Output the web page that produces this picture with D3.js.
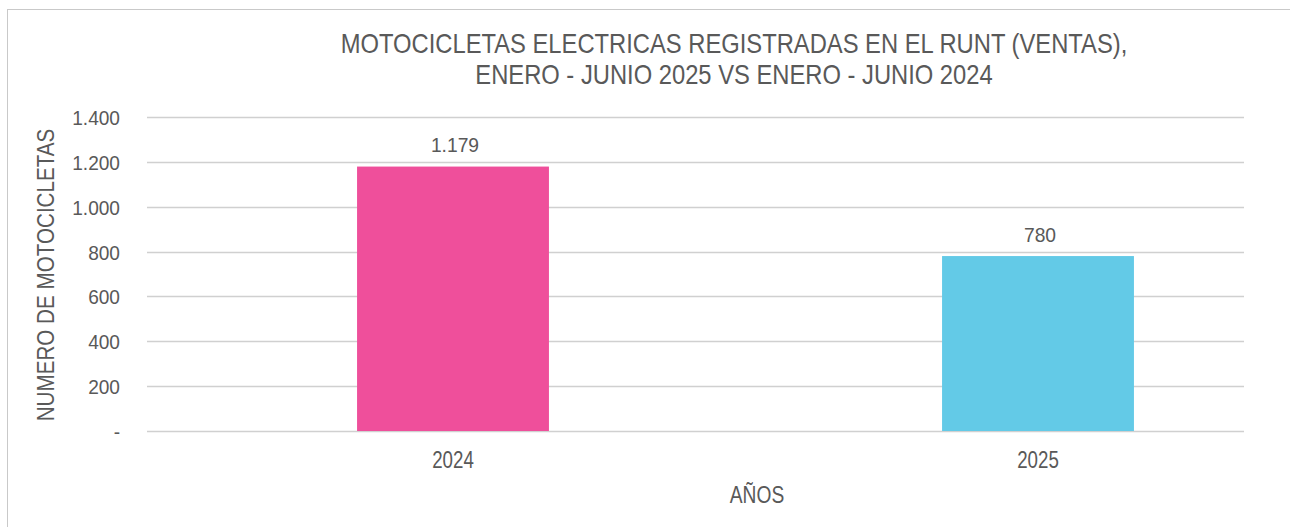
<!DOCTYPE html>
<html><head><meta charset="utf-8">
<script src="https://cdn.jsdelivr.net/npm/d3@7"></script>
<style>
html,body{margin:0;padding:0;background:#fff;}
text{font-family:"Liberation Sans",Arial,sans-serif;fill:#595959;}
</style></head>
<body><svg id="chart" width="1290" height="527"></svg>
<script>
const categories = ["2024", "2025"];
const values = [1179, 780];
const valueLabels = ["1.179", "780"];
const colors = ["#EF4F9B", "#63CAE7"];
const yTicks = [0, 200, 400, 600, 800, 1000, 1200, 1400];
const yTickLabels = ["-", "200", "400", "600", "800", "1.000", "1.200", "1.400"];
const titleLines = ["MOTOCICLETAS ELECTRICAS REGISTRADAS EN EL RUNT (VENTAS),", "ENERO - JUNIO 2025 VS ENERO - JUNIO 2024"];
const yTitle = "NUMERO DE MOTOCICLETAS";
const xTitle = "AÑOS";

const svg = d3.select("#chart");
svg.append("rect").attr("x", 7.5).attr("y", 9.5).attr("width", 1300).attr("height", 540)
  .attr("fill", "#fff").attr("stroke", "#c9c9c9").attr("stroke-width", 1);

const y = d3.scaleLinear().domain([0, 1400]).range([431, 117]);
const x = d3.scaleBand().domain(categories).range([160.5, 1330.5]).paddingInner(0.672).paddingOuter(0.336);
const gridX0 = 147, gridX1 = 1244;

// condensed text helper (simulates the narrow font of the original)
function label(g, px, py, txt, size, sx, anchor, rot) {
  return g.append("text")
    .attr("transform", `translate(${px},${py})` + (rot ? ` rotate(${rot})` : "") + ` scale(${sx},1)`)
    .attr("text-anchor", anchor || "middle")
    .style("font-size", size + "px")
    .text(txt);
}

// gridlines
svg.append("g").selectAll("line").data(yTicks).join("line")
  .attr("x1", gridX0).attr("x2", gridX1)
  .attr("y1", d => Math.round(y(d)) + 0.5).attr("y2", d => Math.round(y(d)) + 0.5)
  .attr("stroke", "#d0d0d0").attr("stroke-width", 1.3);

// y axis tick labels (via axis for positions)
const yAxis = d3.axisLeft(y).tickValues(yTicks).tickFormat((d, i) => yTickLabels[i]).tickSize(0).tickPadding(0);
const gy = svg.append("g").attr("transform", "translate(120,0)").call(yAxis);
gy.select(".domain").remove();
gy.selectAll("text")
  .attr("fill", "#595959")
  .style("font-size", "21px").style("font-family", '"Liberation Sans",Arial,sans-serif')
  .attr("dy", "0.36em")
  .attr("transform", "scale(0.91,1)");

// bars
svg.append("g").selectAll("rect").data(values).join("rect")
  .attr("x", (d, i) => x(categories[i]))
  .attr("width", x.bandwidth())
  .attr("y", d => y(d))
  .attr("height", d => y(0) - y(d))
  .attr("fill", (d, i) => colors[i]);

// data labels
const gl = svg.append("g");
values.forEach((v, i) => {
  label(gl, x(categories[i]) + x.bandwidth() / 2 + 2, y(v) - 14.5, valueLabels[i], 20.5, 0.94, "middle");
});

// x axis labels
const gx = svg.append("g");
categories.forEach(c => {
  label(gx, x(c) + x.bandwidth() / 2, 468, c, 24, 0.78, "middle");
});

// titles
const gt = svg.append("g");
titleLines.forEach((t, i) => {
  label(gt, 734, 52.5 + i * 31.5, t, 27, 0.88, "middle");
});

label(svg, 757, 503, xTitle, 24, 0.8, "middle");
label(svg, 54, 275, yTitle, 24, 0.86, "middle", -90);
</script></body></html>
